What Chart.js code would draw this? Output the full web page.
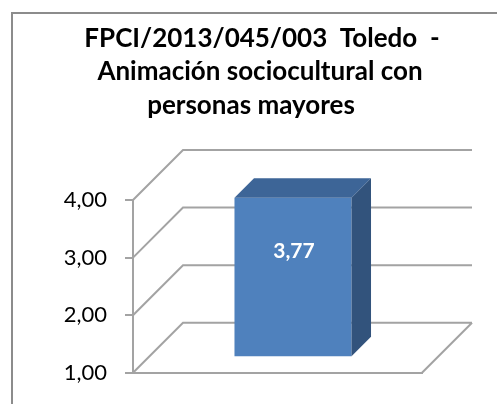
<!DOCTYPE html>
<html>
<head>
<meta charset="utf-8">
<script src="https://cdn.jsdelivr.net/npm/chart.js@4.4.1/dist/chart.umd.min.js"></script>
<style>
    html, body { margin: 0; padding: 0; background: #ffffff; overflow: hidden; }
    #wrap { position: relative; width: 497px; height: 404px; }
</style>
</head>
<body>
<div id="wrap"><canvas id="chart-canvas"></canvas></div>
<script>
// Chart data
const titleLines = ["FPCI/2013/045/003  Toledo  -", "Animación sociocultural con", "personas mayores"];
const categories = [""];
const values = [3.77];
const yMin = 1;
const yMax = 4;
const yStep = 1;

// 3D look (pixels)
const WALL_DEPTH = 50;     // offset of the back wall
const BAR_SHIFT = 15.5;    // front face of the bar sits this far back
const BAR_DEPTH = 19.5;    // thickness of the bar
const GRID_COLOR = "#a3a3a3";
const FONT = "Lato, 'Open Sans', sans-serif";

function fmt(v) {
    return v.toFixed(2).replace(".", ",");
}

// outer frame + title
const framePlugin = {
    id: "frame",
    beforeDraw(chart) {
        const ctx = chart.ctx;
        ctx.save();
        ctx.fillStyle = "#ffffff";
        ctx.fillRect(0, 0, chart.width, chart.height);
        ctx.strokeStyle = "#8c8c8c";
        ctx.lineWidth = 2;
        ctx.beginPath();
        ctx.moveTo(12, chart.height + 2);
        ctx.lineTo(12, 13);
        ctx.lineTo(chart.width + 2, 13);
        ctx.stroke();

        // title, three lines
        const centers = [262, 260, 251];
        const baselines = [47, 80, 114];
        ctx.fillStyle = "#000000";
        ctx.font = "bold 26px " + FONT;
        ctx.textAlign = "center";
        ctx.textBaseline = "alphabetic";
        titleLines.forEach((line, i) => ctx.fillText(line, centers[i], baselines[i]));
        ctx.restore();
    }
};

// back wall, floor and the bar's extra faces
const depthPlugin = {
    id: "depth",
    beforeDatasetsDraw(chart) {
        const ctx = chart.ctx;
        const area = chart.chartArea;
        const yScale = chart.scales.y;
        ctx.save();
        ctx.strokeStyle = GRID_COLOR;
        ctx.lineWidth = 2;
        ctx.beginPath();
        yScale.ticks.forEach(t => {
            const y = yScale.getPixelForValue(t.value);
            ctx.moveTo(area.left, y);
            ctx.lineTo(area.left + WALL_DEPTH, y - WALL_DEPTH);
            ctx.lineTo(area.right + WALL_DEPTH, y - WALL_DEPTH);
        });
        ctx.moveTo(area.right, area.bottom);
        ctx.lineTo(area.right + WALL_DEPTH, area.bottom - WALL_DEPTH);
        ctx.stroke();
        ctx.restore();

        // push the bar back into the middle of the depth
        ctx.save();
        ctx.translate(BAR_SHIFT, -BAR_SHIFT);
    },
    afterDatasetsDraw(chart) {
        const ctx = chart.ctx;
        ctx.restore();

        const meta = chart.getDatasetMeta(0);
        meta.data.forEach((bar, i) => {
            const p = bar.getProps(["x", "y", "base", "width"], true);
            const left = p.x - p.width / 2 + BAR_SHIFT;
            const right = p.x + p.width / 2 + BAR_SHIFT;
            const top = p.y - BAR_SHIFT;
            const bottom = p.base - BAR_SHIFT;

            ctx.save();
            // top face
            ctx.fillStyle = "#3d6597";
            ctx.beginPath();
            ctx.moveTo(left, top);
            ctx.lineTo(left + BAR_DEPTH, top - BAR_DEPTH);
            ctx.lineTo(right + BAR_DEPTH, top - BAR_DEPTH);
            ctx.lineTo(right, top);
            ctx.closePath();
            ctx.fill();
            // side face
            ctx.fillStyle = "#32537c";
            ctx.beginPath();
            ctx.moveTo(right, top);
            ctx.lineTo(right + BAR_DEPTH, top - BAR_DEPTH);
            ctx.lineTo(right + BAR_DEPTH, bottom - BAR_DEPTH);
            ctx.lineTo(right, bottom);
            ctx.closePath();
            ctx.fill();

            // value label
            ctx.fillStyle = "#ffffff";
            ctx.font = "bold 21px " + FONT;
            ctx.textAlign = "center";
            ctx.textBaseline = "middle";
            ctx.fillText(fmt(values[i]), (left + right) / 2 + 1, top + 53);
            ctx.restore();
        });
    }
};

function makeChart() {
    Chart.defaults.font.family = FONT;
    Chart.defaults.color = "#000000";

    const ctx = document.getElementById("chart-canvas").getContext("2d");
    new Chart(ctx, {
        type: "bar",
        data: {
            labels: categories,
            datasets: [{
                data: values,
                base: yMin,
                backgroundColor: "#4f81bd",
                borderWidth: 0,
                categoryPercentage: 1,
                barPercentage: 0.405,
                clip: false
            }]
        },
        options: {
            responsive: true,
            maintainAspectRatio: false,
            animation: false,
            layout: {
                padding: { top: 200, left: 0, right: 75, bottom: 27 }
            },
            scales: {
                x: {
                    ticks: { display: false },
                    grid: { display: false },
                    border: { display: true, color: GRID_COLOR, width: 2 },
                    afterFit(scale) { scale.height = 0; }
                },
                y: {
                    min: yMin,
                    max: yMax,
                    ticks: {
                        stepSize: yStep,
                        padding: 18,
                        font: { size: 22 },
                        color: "#000000",
                        callback: v => fmt(v)
                    },
                    grid: {
                        drawOnChartArea: false,
                        drawTicks: true,
                        tickLength: 8,
                        color: GRID_COLOR,
                        lineWidth: 2
                    },
                    border: { display: true, color: GRID_COLOR, width: 2 },
                    afterFit(scale) { scale.width = 133; }
                }
            },
            plugins: {
                legend: { display: false },
                title: { display: false },
                tooltip: { enabled: false }
            }
        },
        plugins: [framePlugin, depthPlugin]
    });
}

Promise.all([
    document.fonts.load("bold 26px Lato"),
    document.fonts.load("22px Lato")
]).catch(() => null).then(makeChart);
</script>
</body>
</html>
